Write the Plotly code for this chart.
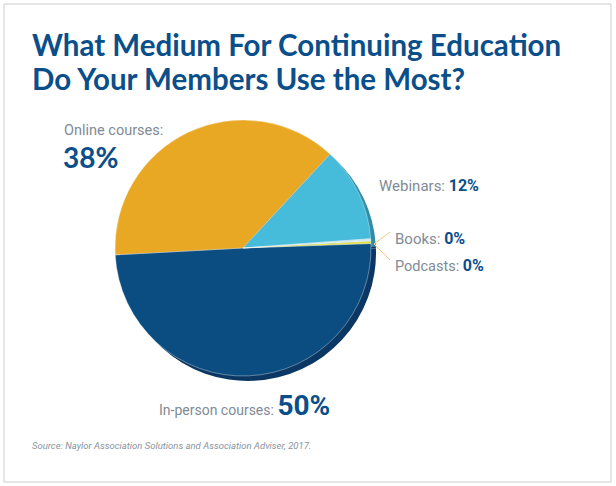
import plotly.graph_objects as go

# Data
media = ["In-person courses", "Online courses", "Webinars", "Books", "Podcasts"]
shares = [50, 38, 12, 0, 0]            # published percentages
wedges = [50, 38, 12, 0.3, 0.3]        # drawn sizes (0% slices show as slivers)
colors = ["#0B4C81", "#E8A824", "#46BCDA", "#CFE9F2", "#E6E23C"]
rim_colors = ["#0A3763", "#0A3763", "#2F8DA8", "#2F8DA8", "#0A3763"]

W, H = 616, 486
BLUE = "#0B4F8A"
GRAY = "#7F8B96"
LABEL_FONT = "Roboto"


def px(x):
    return x / W


def py(y):
    return 1 - y / H


# pie box in pixels: left, top, size
PL, PT, PS = 115, 120, 256
RIM = 5

fig = go.Figure()

# darker copy offset down-right for the 3D edge
fig.add_trace(go.Pie(
    labels=media, values=wedges, sort=False, direction="clockwise", rotation=88,
    marker=dict(colors=rim_colors, line=dict(width=0)),
    textinfo="none", hoverinfo="skip", showlegend=False,
    domain=dict(x=[px(PL + RIM), px(PL + RIM + PS)], y=[py(PT + RIM + PS), py(PT + RIM)]),
))

fig.add_trace(go.Pie(
    labels=media, values=wedges, sort=False, direction="clockwise", rotation=88,
    marker=dict(colors=colors, line=dict(color="rgba(255,255,255,0.6)", width=0.6)),
    textinfo="none", showlegend=False,
    customdata=shares,
    hovertemplate="%{label}: %{customdata}%<extra></extra>",
    domain=dict(x=[px(PL), px(PL + PS)], y=[py(PT + PS), py(PT)]),
))

anns = []
# title
for i, line in enumerate(["What Medium For Continuing Education", "Do Your Members Use the Most?"]):
    anns.append(dict(text="<b>%s</b>" % line, x=px(30), y=py(45 + 34 * i), xanchor="left",
                     yanchor="middle", font=dict(family="Lato, Open Sans", size=29.5, color=BLUE)))


def lab(name, pct, big):
    s = 28 if big else 16
    return ('<span style="color:%s">%s:</span> <b><span style="font-size:%dpx;color:%s">%d%%</span></b>'
            % (GRAY, name, s, BLUE, pct))


# online courses, two lines
anns.append(dict(text="%s:" % media[1], x=px(62), y=py(131), xanchor="left", yanchor="middle",
                 font=dict(family=LABEL_FONT, size=14.5, color=GRAY)))
anns.append(dict(text="<b>%d%%</b>" % shares[1], x=px(61), y=py(157), xanchor="left", yanchor="middle",
                 font=dict(family="Lato, Open Sans", size=28, color=BLUE)))
anns.append(dict(text=lab(media[2], shares[2], False), x=px(377), y=py(185), xanchor="left",
                 yanchor="middle", font=dict(family=LABEL_FONT, size=15, color=GRAY)))
anns.append(dict(text=lab(media[3], shares[3], False), x=px(393), y=py(238), xanchor="left",
                 yanchor="middle", font=dict(family=LABEL_FONT, size=15, color=GRAY)))
anns.append(dict(text=lab(media[4], shares[4], False), x=px(393), y=py(265), xanchor="left",
                 yanchor="middle", font=dict(family=LABEL_FONT, size=14.5, color=GRAY)))
anns.append(dict(text=lab(media[0], shares[0], True), x=px(244), y=py(405), xanchor="center",
                 yanchor="middle", font=dict(family=LABEL_FONT, size=14, color=GRAY)))
anns.append(dict(text="<i>Source: Naylor Association Solutions and Association Adviser, 2017.</i>",
                 x=px(30), y=py(445), xanchor="left", yanchor="middle",
                 font=dict(family=LABEL_FONT, size=9.5, color="#8A939C")))
for a in anns:
    a.update(xref="paper", yref="paper", showarrow=False)

shapes = [
    dict(type="rect", xref="paper", yref="paper", x0=px(4), x1=px(611), y0=py(482), y1=py(4),
         line=dict(color="#CCCCCC", width=1)),
    dict(type="line", xref="paper", yref="paper", x0=px(374), y0=py(244), x1=px(390), y1=py(232),
         line=dict(color="#F4C77C", width=1)),
    dict(type="line", xref="paper", yref="paper", x0=px(374), y0=py(244), x1=px(390), y1=py(260),
         line=dict(color="#F4C77C", width=1)),
]

fig.update_layout(
    width=W, height=H, margin=dict(l=0, r=0, t=0, b=0),
    paper_bgcolor="white", plot_bgcolor="white",
    annotations=anns, shapes=shapes,
)

# drop the page's default body margin so the figure sits at the window origin
fig.write_html("out.html", config={"displayModeBar": False},
               post_script="document.body.style.margin='0px';")
